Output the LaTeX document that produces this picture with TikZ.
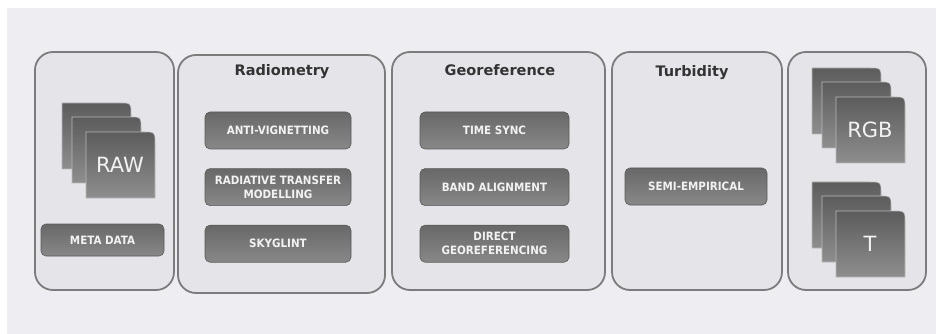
\documentclass[tikz,border=0pt]{standalone}
\usepackage{fontspec}
\setmainfont{DejaVu Sans}
\newfontfamily\boxfont{DejaVu Sans Condensed}
\usepackage{xcolor}
\usetikzlibrary{positioning}

\definecolor{canvas}{HTML}{EEEEF2}
\definecolor{panelfill}{HTML}{E5E5E9}
\definecolor{paneledge}{HTML}{7C7C7C}
\definecolor{boxtop}{HTML}{686868}
\definecolor{boxbot}{HTML}{888888}
\definecolor{pagetop}{HTML}{5C5C5C}
\definecolor{pagebot}{HTML}{8E8E8E}

% stack of three sheets; #1,#2 = top left of the back sheet
\newcommand{\sheetstack}[2]{%
  \foreach \dx/\dy in {0/0, 10/14, 24/29} {
    \shade[top color=pagetop, bottom color=pagebot, draw=gray!55, line width=0.6pt]
      (#1+\dx,#2+\dy+66) -- (#1+\dx,#2+\dy) -- (#1+\dx+58,#2+\dy)
      .. controls (#1+\dx+69,#2+\dy) .. (#1+\dx+69,#2+\dy+11) -- (#1+\dx+69,#2+\dy+66) -- cycle;
  }%
}

\begin{document}
\begin{tikzpicture}[
  x=1pt, y=-1pt,
  panel/.style={draw=paneledge, line width=1.8pt, fill=panelfill, rounded corners=18pt,
    minimum height=238pt},
  stage/.style={draw=black!65, line width=0.6pt, top color=boxtop, bottom color=boxbot,
    rounded corners=5pt, minimum width=146pt, minimum height=37pt, inner sep=2pt,
    text=white!95!black, align=center, font=\boxfont\bfseries\fontsize{11.5}{14}\selectfont},
  heading/.style={text=black!80, font=\bfseries\fontsize{14.5}{17}\selectfont},
  sheet/.style={text=white!95!black, font=\fontsize{21}{24}\selectfont}
]
\useasboundingbox (0,0) rectangle (940,334);
\fill[canvas] (7,8) rectangle (936,334);

% panels
\node[panel, minimum width=139pt] (rawp) at (104.5,171) {};
\node[panel, minimum width=207pt] (radp) at (281.5,174) {};
\node[panel, minimum width=213pt] (geop) at (498.5,171) {};
\node[panel, minimum width=170pt] (turp) at (697,171) {};
\node[panel, minimum width=138pt] (outp) at (857,171) {};

% headings
\node[heading] (radt) at (282,72) {Radiometry};
\node[heading] (geot) at (500,70) {Georeference};
\node[heading] (turt) at (692,73) {Turbidity};

% input
\sheetstack{62}{103}
\node[sheet] (raw) at (120,165) {RAW};
\node[stage, minimum width=123pt, minimum height=32pt] (meta) at (102.5,240) {META DATA};

% radiometry
\node[stage] (vign) at (278,130.5) {ANTI-VIGNETTING};
\node[stage, below=19pt of vign] (rtm) {RADIATIVE TRANSFER\\MODELLING};
\node[stage, below=19pt of rtm] (sky) {SKYGLINT};

% georeference
\node[stage, minimum width=149pt] (sync) at (494.5,130.5) {TIME SYNC};
\node[stage, minimum width=149pt, below=19pt of sync] (band) {BAND ALIGNMENT};
\node[stage, minimum width=149pt, below=19pt of band] (dgeo) {DIRECT\\GEOREFERENCING};

% turbidity
\node[stage, minimum width=142pt] (semi) at (696,186.5) {SEMI-EMPIRICAL};

% output
\sheetstack{812}{68}
\node[sheet] (rgb) at (870,130) {RGB};
\sheetstack{812}{182}
\node[sheet] (tur) at (870,244) {T};
\end{tikzpicture}
\end{document}
